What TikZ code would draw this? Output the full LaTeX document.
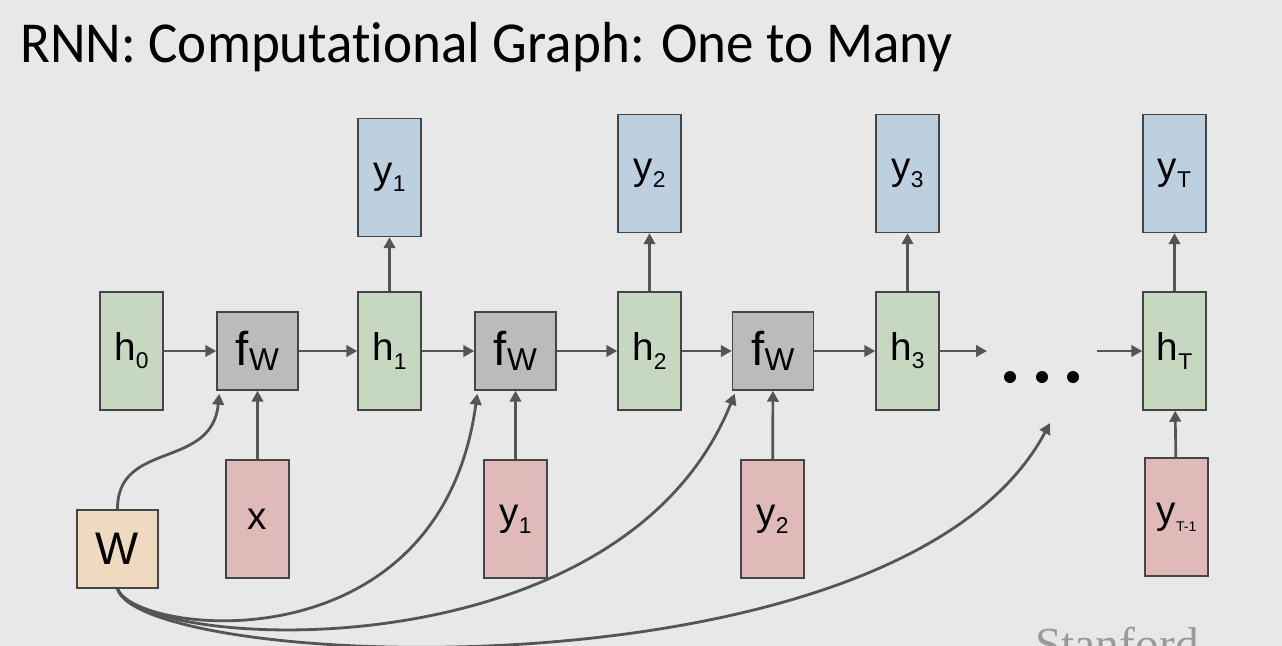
\documentclass[tikz,border=0pt]{standalone}
\usepackage{fontspec}
\setmainfont{Liberation Sans}
\newfontfamily\titlefont[Ligatures=NoCommon, FakeStretch=0.95]{Carlito}
\newfontfamily\logofont{Liberation Serif}
\usetikzlibrary{arrows.meta}
\definecolor{rnbg}{HTML}{E8E8E8}
\definecolor{rnink}{HTML}{454545}
\definecolor{rnline}{HTML}{555555}
\definecolor{rngreen}{HTML}{C6D9C0}
\definecolor{rnblue}{HTML}{BDD0E0}
\definecolor{rnred}{HTML}{E0B9B9}
\definecolor{rngrey}{HTML}{BBBBBB}
\definecolor{rnpeach}{HTML}{EFD9BF}
\definecolor{rnlogo}{HTML}{9A9A9A}
\tikzset{
  rn tall/.style={draw=rnink, line width=0.85pt, inner sep=0pt,
    minimum width=1.26cm, minimum height=2.36cm, font=\fontsize{22}{22}\selectfont},
  rn hidden/.style={rn tall, fill=rngreen},
  rn out/.style={rn tall, fill=rnblue},
  rn in/.style={rn tall, fill=rnred},
  rn cell/.style={draw=rnink, line width=0.85pt, inner sep=0pt,
    minimum width=1.62cm, minimum height=1.56cm, fill=rngrey},
  rn weight/.style={rn cell, fill=rnpeach, font=\fontsize{26}{26}\selectfont},
  rn arrow/.style={-{Triangle[length=2.2mm,width=2.3mm]}, line width=1.5pt, draw=rnline},
  rn curve/.style={rn arrow, line width=1.6pt}
}
\newcommand{\rsub}[1]{\raisebox{-0.4ex}{\fontsize{13}{13}\selectfont #1}}
\newcommand{\fw}{{\fontsize{27}{27}\selectfont f}\raisebox{-0.6ex}{\fontsize{18}{18}\selectfont W}}

\begin{document}
\begin{tikzpicture}[x=0.02cm, y=-0.02cm]
  \fill[rnbg] (0,0) rectangle (1282,646);
  \clip (0,0) rectangle (1282,646);
  \node[anchor=base west, inner sep=0pt, font=\titlefont\fontsize{33}{33}\selectfont] (title) at (20,62)
    {RNN: Computational Graph: One to Many};

  % hidden chain
  \node[rn hidden] (h0) at (131.5,351) {h\rsub{0}};
  \node[rn cell] (f1) at (257.5,351) {\fw};
  \node[rn hidden] (h1) at (389.5,351) {h\rsub{1}};
  \node[rn cell] (f2) at (515.5,351) {\fw};
  \node[rn hidden] (h2) at (649.5,351) {h\rsub{2}};
  \node[rn cell] (f3) at (773,351) {\fw};
  \node[rn hidden] (h3) at (907.5,351) {h\rsub{3}};
  \node[rn hidden] (hT) at (1174.5,351) {h\rsub{T}};
  \coordinate (gapL) at (987,351);
  \coordinate (gapR) at (1097,351);

  % outputs
  \node[rn out] (o1) at (389.5,177.5) {y\rsub{1}};
  \node[rn out] (o2) at (649.5,173.5) {y\rsub{2}};
  \node[rn out] (o3) at (907.5,173.5) {y\rsub{3}};
  \node[rn out] (oT) at (1174.5,173.5) {y\rsub{T}};

  % inputs
  \node[rn in] (x) at (257.5,519) {x};
  \node[rn in] (i1) at (515.5,519) {y\rsub{1}};
  \node[rn in] (i2) at (772.5,519) {y\rsub{2}};
  \node[rn in] (iT) at (1176.5,517) {y\raisebox{-0.4ex}{\fontsize{8}{8}\selectfont T-1}};

  \node[rn weight] (W) at (117.5,549) {W};

  % dots
  \foreach \dx in {1010,1042,1073}
    \fill[black] (\dx,377) circle (6);
  \coordinate (dotsin) at (1050,423);

  \draw[rn arrow] (h0) -- (f1);
  \draw[rn arrow] (f1) -- (h1);
  \draw[rn arrow] (h1) -- (f2);
  \draw[rn arrow] (f2) -- (h2);
  \draw[rn arrow] (h2) -- (f3);
  \draw[rn arrow] (f3) -- (h3);
  \draw[rn arrow] (h3) -- (gapL);
  \draw[rn arrow] (gapR) -- (hT);
  \draw[rn arrow] (h1) -- (o1);
  \draw[rn arrow] (h2) -- (o2);
  \draw[rn arrow] (h3) -- (o3);
  \draw[rn arrow] (hT) -- (oT);
  \draw[rn arrow] (x) -- (f1);
  \draw[rn arrow] (i1) -- (f2);
  \draw[rn arrow] (i2) -- (f3);
  \draw[rn arrow] (iT) -- (hT);

  % shared weights
  \draw[rn curve] (W.north) .. controls (117,440) and (212,470) .. ([xshift=0.06cm,yshift=-0.06cm]f1.south west);
  \draw[rn curve] (W.south) .. controls (135,635) and (440,670) .. ([xshift=0.06cm,yshift=-0.06cm]f2.south west);
  \draw[rn curve] (W.south) .. controls (135,650) and (620,680) .. ([xshift=0.06cm,yshift=-0.06cm]f3.south west);
  \draw[rn curve] (W.south) .. controls (140,670) and (900,705) .. (dotsin);

  \node[anchor=base west, inner sep=0pt, text=rnlogo, font=\logofont\fontsize{27}{27}\selectfont] (logo) at (1035,660) {Stanford};
\end{tikzpicture}
\end{document}
